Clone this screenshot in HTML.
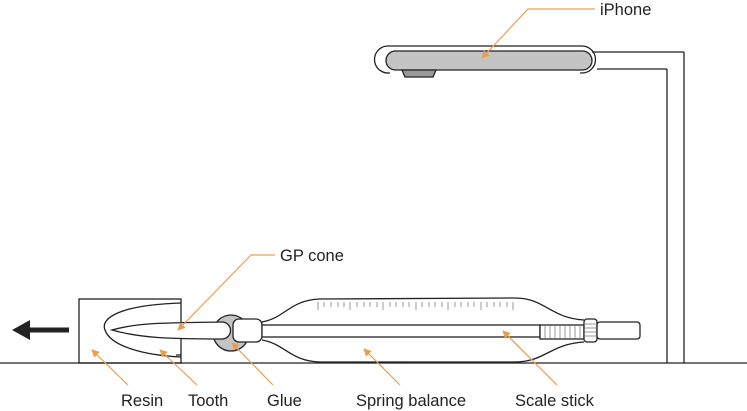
<!DOCTYPE html>
<html><head><style>body{margin:0;background:#fff}svg{display:block}text{font-family:"Liberation Sans",sans-serif;font-size:16.5px;fill:#222}</style></head><body>
<svg width="747" height="411" viewBox="0 0 747 411">
<defs><marker id="a" markerWidth="8" markerHeight="8" refX="7" refY="4" orient="auto" markerUnits="userSpaceOnUse"><path d="M0,0L8,4L0,8z" fill="#e8a050"/></marker></defs>
<g fill="none" stroke="#222" stroke-width="1.3">
<line x1="0" y1="363" x2="747" y2="363"/>
<rect x="79" y="299" width="102" height="64"/>
<path d="M181,303 C120,305 100,318 105,330 C110,345 140,355 181,357"/>
<line x1="176" y1="355" x2="181" y2="355"/>
<circle cx="231" cy="333" r="18" fill="#c4c4c4"/>
<path d="M112,330 C140,322 170,323 222,322 A8.5,8.5 0 0 1 222,339 C170,339 140,338 112,330z" fill="#fff"/>
<rect x="233" y="319" width="29" height="23" rx="6" fill="#fff"/>
<path d="M262,322 C285,318 290,300 320,299 L515,298 C545,298 550,318 584,320"/>
<path d="M262,340 C285,344 290,361 320,362 L515,362 C545,362 550,344 584,342"/>
<rect x="262" y="325" width="278" height="12" fill="#fff"/>
<rect x="540" y="325" width="44" height="14" fill="#fff"/>
<rect x="584" y="319" width="13" height="23" rx="3" fill="#fff"/>
<rect x="597" y="322" width="43" height="17" rx="3" fill="#fff"/>
<line x1="667" y1="69" x2="667" y2="363"/><line x1="684" y1="52" x2="684" y2="363"/>
<line x1="592" y1="52" x2="684" y2="52"/><line x1="597" y1="69" x2="667" y2="69"/>
<path d="M390,73 L388,73 A13.5,13.5 0 0 1 388,46 L582,46 A13.5,13.5 0 0 1 582,73 L580,73"/>
<rect x="386" y="51" width="206" height="19" rx="9.5" fill="#c4c4c4"/>
<path d="M402,70 L436,70 L433,77 L405,77z" fill="#999"/>
</g>
<g stroke="#999" stroke-width="1">
<path d="M318,302v8M324,302v5M331,302v5M338,302v5M344,302v5M350,302v8M357,302v5M364,302v5M370,302v5M377,302v5M383,302v8M390,302v5M396,302v5M403,302v5M409,302v5M416,302v8M422,302v5M429,302v5M435,302v5M442,302v5M448,302v8M455,302v5M461,302v5M468,302v5M474,302v5M481,302v8M487,302v5M494,302v5M500,302v5M507,302v5M513,302v8"/>
<path d="M545,326v12M550,326v12M555,326v12M560,326v12M565,326v12M570,326v12M575,326v12M580,326v12M585,324h11M585,328h11M585,332h11M585,336h11"/>
</g>
<path d="M69,330H28" stroke="#222" stroke-width="5"/><path d="M12,330L30,320L30,340z" fill="#222"/>
<g stroke="#e8a050" stroke-width="1.2" fill="none" marker-end="url(#a)">
<path d="M595,9H528L482,58"/>
<path d="M275,255H251L178,330"/>
<path d="M128,385L92,350"/><path d="M197,385L160,350"/><path d="M273,385L232,343"/>
<path d="M400,385L364,349"/><path d="M557,385L503,331"/>
</g>
<text x="600" y="15">iPhone</text>
<text x="280" y="261">GP cone</text>
<text x="121" y="406">Resin</text><text x="188" y="406">Tooth</text><text x="267" y="406">Glue</text>
<text x="356" y="406">Spring balance</text><text x="515" y="406">Scale stick</text>
</svg></body></html>
